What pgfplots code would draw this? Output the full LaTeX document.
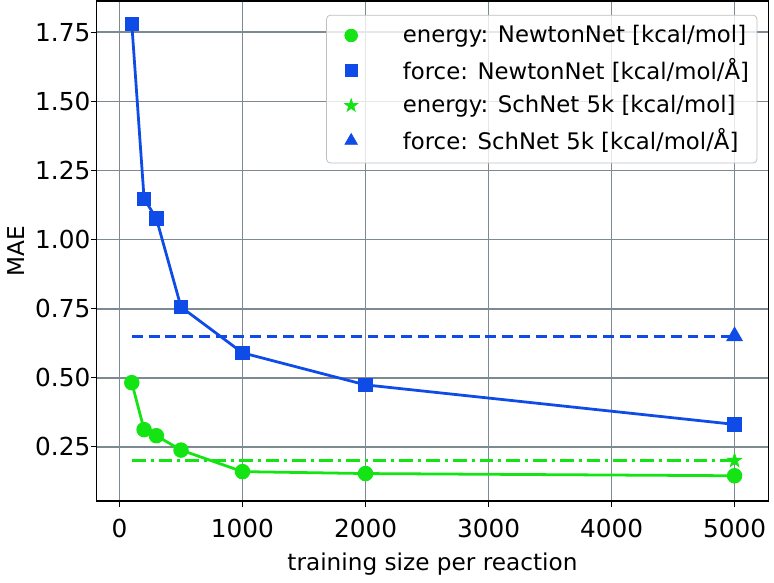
\documentclass[border=0pt]{standalone}
\usepackage{fontspec}
\setmainfont{DejaVu Sans}
\usepackage{pgfplots}
\pgfplotsset{compat=1.18}
\definecolor{mgreen}{RGB}{20,228,20}
\definecolor{mblue}{RGB}{15,75,230}
\definecolor{mgrid}{RGB}{125,138,145}
\pgfdeclareplotmark{fstar}{%
  \pgfpathmoveto{\pgfqpointpolar{90}{\pgfplotmarksize}}%
  \pgfpathlineto{\pgfqpointpolar{126}{0.4\pgfplotmarksize}}%
  \pgfpathlineto{\pgfqpointpolar{162}{\pgfplotmarksize}}%
  \pgfpathlineto{\pgfqpointpolar{198}{0.4\pgfplotmarksize}}%
  \pgfpathlineto{\pgfqpointpolar{234}{\pgfplotmarksize}}%
  \pgfpathlineto{\pgfqpointpolar{270}{0.4\pgfplotmarksize}}%
  \pgfpathlineto{\pgfqpointpolar{306}{\pgfplotmarksize}}%
  \pgfpathlineto{\pgfqpointpolar{342}{0.4\pgfplotmarksize}}%
  \pgfpathlineto{\pgfqpointpolar{18}{\pgfplotmarksize}}%
  \pgfpathlineto{\pgfqpointpolar{54}{0.4\pgfplotmarksize}}%
  \pgfpathclose\pgfusepathqfillstroke}
\pgfplotsset{mlegend/.style={legend image code/.code={\path (0cm,-0.1cm) (1.2cm,0.1cm); \draw[##1] plot coordinates {(0.36cm,0cm)};}}}
\begin{document}
\fontsize{12pt}{14pt}\selectfont
\begin{tikzpicture}
\begin{axis}[
  scale only axis,
  width=339pt, height=252.5pt,
  xmin=-186, xmax=5274, ymin=0.053, ymax=1.864,
  xtick={0,1000,2000,3000,4000,5000},
  ytick={0.25,0.5,0.75,1.0,1.25,1.5,1.75},
  yticklabel style={xshift=4pt, /pgf/number format/.cd,fixed,fixed zerofill,precision=2},
  /pgf/number format/assume math mode=true,
  scaled x ticks=false,
  xticklabel style={yshift=-2pt, /pgf/number format/1000 sep={}},
  grid=major,
  major grid style={mgrid, line width=0.9pt},
  tick style={black, line width=0.6pt},
  major tick length=3pt,
  tick align=outside,
  xtick pos=bottom, ytick pos=left,
  axis line style={black, line width=0.7pt},
  xlabel={training size per reaction},
  ylabel={MAE},
  xlabel style={yshift=1pt},
  ylabel style={yshift=-3pt},
  label style={font=\fontsize{11.7pt}{14pt}\selectfont},
  ticklabel style={font=\fontsize{12.5pt}{14pt}\selectfont},
  legend cell align=left,
  legend style={at={(1,1)}, anchor=north east, xshift=-5.5pt, yshift=-7pt,
    draw=black!25, rounded corners=2pt, fill=white, fill opacity=0.8, text opacity=1,
    font=\fontsize{11.5pt}{14pt}\selectfont, row sep=2.2pt, inner xsep=2pt, inner ysep=3pt},
]
\addlegendimage{mlegend, only marks, mark=*, mgreen, mark size=3.2pt, mark options={fill=mgreen, draw=mgreen, fill opacity=1, draw opacity=1}}
\addlegendentry{energy: NewtonNet [kcal/mol]}
\addlegendimage{mlegend, only marks, mark=square*, mblue, mark size=2.9pt, mark options={fill=mblue, draw=mblue, fill opacity=1, draw opacity=1}}
\addlegendentry{force: NewtonNet [kcal/mol/Å]}
\addlegendimage{mlegend, only marks, mark=fstar, mgreen, mark size=3.5pt, mark options={fill=mgreen, draw=mgreen, line width=0.3pt, fill opacity=1, draw opacity=1}}
\addlegendentry{energy: SchNet 5k [kcal/mol]}
\addlegendimage{mlegend, only marks, mark=triangle*, mblue, mark size=3.6pt, mark options={fill=mblue, draw=mblue, fill opacity=1, draw opacity=1}}
\addlegendentry{force: SchNet 5k [kcal/mol/Å]}

\addplot[forget plot, mblue, line width=1.4pt, dash pattern=on 5.5pt off 3pt, mark=triangle*, mark size=3.6pt, mark indices={2}, mark options={solid, fill=mblue, draw=mblue}]
  coordinates {(100,0.65) (5000,0.65)};
\addplot[forget plot, mgreen, line width=1.4pt, dash pattern=on 7pt off 2.5pt on 1.5pt off 2.5pt, mark=fstar, mark size=3.8pt, mark indices={2}, mark options={solid, fill=mgreen, draw=mgreen, line width=0.3pt}]
  coordinates {(100,0.20) (5000,0.20)};
\addplot[forget plot, mgreen, line width=1.4pt, mark=*, mark size=3.2pt, mark options={fill=mgreen, draw=mgreen}]
  coordinates {(100,0.482) (200,0.312) (300,0.290) (500,0.238) (1000,0.160) (2000,0.153) (5000,0.145)};
\addplot[forget plot, mblue, line width=1.4pt, mark=square*, mark size=2.9pt, mark options={fill=mblue, draw=mblue}]
  coordinates {(100,1.781) (200,1.148) (300,1.076) (500,0.756) (1000,0.590) (2000,0.474) (5000,0.331)};
\end{axis}
\end{tikzpicture}
\end{document}
